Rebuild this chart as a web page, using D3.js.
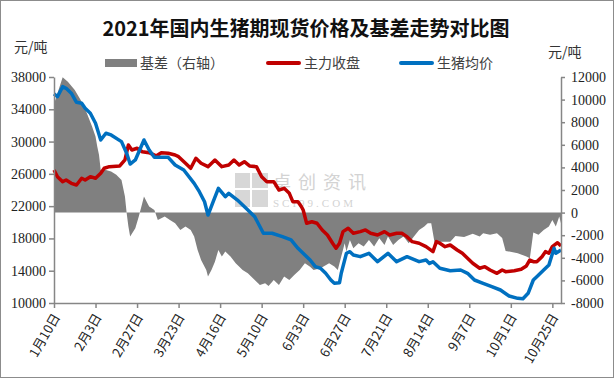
<!DOCTYPE html>
<html>
<head>
<meta charset="utf-8">
<script src="https://cdn.jsdelivr.net/npm/d3@7"></script>
<style>
  body { margin: 0; background: #fff; }
  svg text { font-family: "Noto Sans CJK SC", sans-serif; }
</style>
</head>
<body>
<div id="main"></div>
<script>
// 生猪均价 (元/吨)
var spot = [
  ["01-10",35900],["01-12",35560],["01-15",36800],["01-17",36600],["01-20",35990],["01-23",34870],
  ["01-26",34750],["01-28",34130],["01-31",33510],["02-03",32270],["02-06",30200],["02-09",31030],
  ["02-12",30820],["02-18",29990],["02-21",28550],["02-23",27220],["02-26",27720],["03-03",30200],
  ["03-06",28960],["03-09",28050],["03-17",28050],["03-21",27100],["03-26",26480],["04-01",24830],
  ["04-04",23790],["04-07",22550],["04-09",20900],["04-12",22550],["04-15",24210],["04-19",23170],
  ["04-21",23590],["04-26",22760],["05-01",21730],["05-06",20690],["05-11",18640],["05-16",18640],
  ["05-22",18220],["05-27",17810],["05-31",16780],["06-04",15950],["06-07",15330],["06-10",14500],
  ["06-13",14300],["06-16",13680],["06-19",12850],["06-21",12440],["06-24",12520],["06-25",13680],
  ["06-28",16160],["06-30",16360],["07-02",15950],["07-06",15740],["07-11",16160],["07-16",15120],
  ["07-22",16160],["07-27",15120],["08-02",15740],["08-09",15120],["08-13",15330],["08-15",14900],
  ["08-17",15100],["08-21",14300],["08-27",14000],["09-02",14090],["09-06",13680],["09-10",12850],
  ["09-15",12440],["09-20",12020],["09-25",11610],["09-30",10870],["10-05",10580],["10-08",10530],
  ["10-11",11200],["10-14",12850],["10-16",13260],["10-20",14090],["10-23",14710],["10-26",16780],
  ["10-27",16160],["10-30",16570]
];

// 主力收盘 (元/吨)
var futures = [
  ["01-10",26480],["01-12",25650],["01-15",25030],["01-17",25240],["01-20",24830],["01-23",24620],
  ["01-26",25450],["01-28",25240],["01-31",25650],["02-03",25450],["02-06",26070],["02-08",26690],
  ["02-11",26890],["02-17",26980],["02-20",27720],["02-22",29580],["02-24",28960],["02-27",29170],
  ["03-02",28750],["03-06",28620],["03-10",28220],["03-13",28620],["03-17",28550],["03-21",28340],
  ["03-23",28130],["03-27",27310],["03-30",26690],["04-02",27930],["04-05",27310],["04-09",26890],
  ["04-13",27720],["04-17",26890],["04-21",27100],["04-24",27720],["04-27",27100],["04-30",27510],
  ["05-03",26980],["05-07",26890],["05-10",25650],["05-13",25030],["05-17",25030],["05-20",24000],
  ["05-23",24210],["05-26",23590],["05-28",22550],["05-31",22550],["06-02",21930],["06-03",21520],
  ["06-05",19880],["06-08",20070],["06-11",19880],["06-14",19050],["06-17",18430],["06-20",17400],
  ["06-22",16780],["06-24",17400],["06-26",18840],["06-29",19260],["07-02",18640],["07-06",18840],
  ["07-09",19050],["07-12",18640],["07-16",18430],["07-20",18840],["07-23",18430],["07-27",18640],
  ["07-30",18640],["08-02",18220],["08-05",17600],["08-09",17400],["08-13",16980],["08-17",16360],
  ["08-19",17600],["08-21",17400],["08-24",16980],["08-27",17190],["08-31",16570],["09-03",16160],
  ["09-06",15540],["09-09",14920],["09-13",14300],["09-16",14500],["09-19",14090],["09-23",13680],
  ["09-26",14090],["09-28",13880],["10-03",14000],["10-07",14180],["10-10",14590],["10-12",15330],
  ["10-14",15120],["10-16",15120],["10-19",15740],["10-21",16360],["10-23",16160],["10-25",16980],
  ["10-28",17470],["10-30",17060]
];

// 基差 (右轴)
var basis = [
  ["01-10",9620],["01-15",11980],["01-18",11590],["01-22",10860],["01-26",9820],["01-29",8800],
  ["02-01",7610],["02-03",6730],["02-04",5840],["02-05",5110],["02-06",3780],["02-09",3780],
  ["02-12",3630],["02-15",3340],["02-18",2890],["02-20",1420],["02-21",-50],["02-22",-1240],
  ["02-23",-2120],["02-26",-1380],["02-28",-350],["03-02",830],["03-03",1420],["03-05",830],
  ["03-06",530],["03-09",240],["03-11",-650],["03-15",-350],["03-18",-650],["03-21",-940],
  ["03-24",-1530],["03-27",-1240],["03-30",-1530],["04-01",-2120],["04-03",-3300],["04-05",-4190],
  ["04-08",-5070],["04-09",-5660],["04-11",-5070],["04-13",-4340],["04-15",-3300],["04-17",-3890],
  ["04-19",-3450],["04-22",-3890],["04-25",-4480],["04-29",-5070],["05-02",-5360],["05-06",-5960],
  ["05-09",-6400],["05-12",-6250],["05-14",-6490],["05-17",-5960],["05-20",-6400],["05-23",-5660],
  ["05-26",-5960],["05-29",-5510],["06-01",-5070],["06-04",-4480],["06-07",-4800],["06-09",-5070],
  ["06-13",-4920],["06-18",-4480],["06-21",-4780],["06-23",-5070],["06-25",-3890],["06-27",-2710],
  ["06-28",-3450],["06-30",-2420],["07-02",-3150],["07-05",-2710],["07-08",-3010],["07-11",-2420],
  ["07-14",-3010],["07-17",-2270],["07-20",-2860],["07-22",-2120],["07-25",-2860],["07-28",-2420],
  ["07-31",-2120],["08-03",-2710],["08-06",-2120],["08-09",-1530],["08-12",-1240],["08-14",-940],
  ["08-16",-940],["08-18",-2710],["08-22",-2570],["08-27",-2570],["08-30",-2060],["09-04",-2150],
  ["09-09",-1880],["09-13",-2120],["09-15",-1820],["09-19",-1970],["09-23",-1820],["09-26",-2240],
  ["09-28",-3390],["10-05",-3590],["10-10",-3890],["10-12",-4040],["10-14",-1750],["10-17",-1970],
  ["10-20",-1530],["10-23",-1240],["10-25",-650],["10-27",-1240],["10-29",-350],["10-30",-940]
];

var xTicks = ["01-10","02-03","02-27","03-23","04-16","05-10","06-03","06-27","07-21","08-14","09-07","10-01","10-25"];
var leftTicks = [10000, 14000, 18000, 22000, 26000, 30000, 34000, 38000];
var rightTicks = [-8000, -6000, -4000, -2000, 0, 2000, 4000, 6000, 8000, 10000, 12000];

const width = 614;
const height = 378;
const plotLeft = 54, plotRight = 561, plotTop = 77, plotBottom = 303;

var parse = d3.timeParse("%Y-%m-%d");
var toDate = (s) => parse("2021-" + s);

const svg = d3.select("#main")
  .append("svg")
  .attr("width", width)
  .attr("height", height);

svg.append("rect")
  .attr("x", 0.5).attr("y", 0.5)
  .attr("width", width - 1).attr("height", height - 1)
  .attr("fill", "#fff")
  .attr("stroke", "#8c8c8c");

const xScale = d3.scaleTime()
  .domain([toDate("01-10"), toDate("10-30")])
  .range([plotLeft, plotRight]);
const yLeft = d3.scaleLinear().domain([10000, 38000]).range([plotBottom, plotTop]);
const yRight = d3.scaleLinear().domain([-8000, 12000]).range([plotBottom, plotTop]);

// basis area
const area = d3.area()
  .x((d) => xScale(toDate(d[0])))
  .y0(yRight(0))
  .y1((d) => yRight(d[1]));
svg.append("path")
  .datum(basis)
  .attr("d", area)
  .attr("fill", "#808080");

// watermark
var wm = svg.append("g").attr("opacity", 0.55);
[[235, 173, 15, 15], [252, 173, 16, 15], [235, 190, 15, 17], [252, 190, 16, 17]].forEach((r) => {
  wm.append("rect").attr("x", r[0]).attr("y", r[1]).attr("width", r[2]).attr("height", r[3]).attr("fill", "#b8b8b8");
});
wm.append("text")
  .attr("x", 273).attr("y", 189)
  .style("font-size", "18px")
  .style("letter-spacing", "7px")
  .attr("fill", "#b0b0b0")
  .text("卓创资讯");
wm.append("text")
  .attr("x", 273).attr("y", 207)
  .style("font-family", "Liberation Serif")
  .style("font-size", "11px")
  .style("letter-spacing", "3px")
  .attr("fill", "#b0b0b0")
  .text("SCI99.COM");

const lineLeft = d3.line()
  .x((d) => xScale(toDate(d[0])))
  .y((d) => yLeft(d[1]));

svg.append("path")
  .datum(futures)
  .attr("d", lineLeft)
  .attr("fill", "none")
  .attr("stroke", "#C00000")
  .attr("stroke-width", 3.5)
  .attr("stroke-linejoin", "round");

svg.append("path")
  .datum(spot)
  .attr("d", lineLeft)
  .attr("fill", "none")
  .attr("stroke", "#0070C0")
  .attr("stroke-width", 3.5)
  .attr("stroke-linejoin", "round");

// axes
const leftAxis = d3.axisLeft(yLeft).tickValues(leftTicks).tickSize(5).tickPadding(3).tickFormat(d3.format("d"));
const rightAxis = d3.axisRight(yRight).tickValues(rightTicks).tickSize(4).tickPadding(6).tickFormat((d) => d < 0 ? "-" + Math.abs(d) : d);
const bottomAxis = d3.axisBottom(xScale).tickValues(xTicks.map(toDate)).tickSize(5).tickFormat("");

function styleAxis(g) {
  g.select(".domain").attr("stroke", "#868686").attr("stroke-width", 1.5);
  g.selectAll(".tick line").attr("stroke", "#868686").attr("stroke-width", 1.5);
  g.selectAll("text")
    .style("font-family", "Liberation Serif")
    .style("font-size", "14px")
    .attr("fill", "#222");
}

svg.append("g")
  .attr("transform", "translate(" + plotLeft + ",0)")
  .call(leftAxis.tickSizeOuter(0))
  .call(styleAxis);

svg.append("g")
  .attr("transform", "translate(" + plotRight + ",0)")
  .call(rightAxis.tickSizeOuter(0))
  .call(styleAxis);

var xAxisG = svg.append("g")
  .attr("transform", "translate(0," + plotBottom + ")")
  .call(bottomAxis.tickSizeOuter(0))
  .call(styleAxis);

xAxisG.selectAll(".tick")
  .append("text")
  .attr("transform", "translate(6,14) rotate(-60)")
  .attr("text-anchor", "end")
  .attr("fill", "#222")
  .style("font-size", "13px")
  .text((d) => (d.getMonth() + 1) + "月" + d.getDate() + "日");

// title and units
svg.append("text")
  .attr("x", 306).attr("y", 36)
  .attr("text-anchor", "middle")
  .style("font-size", "20px")
  .style("font-weight", "bold")
  .attr("fill", "#111")
  .text("2021年国内生猪期现货价格及基差走势对比图");

svg.append("text").attr("x", 14).attr("y", 52).style("font-size", "14px").attr("fill", "#333").text("元/吨");
svg.append("text").attr("x", 548).attr("y", 57).style("font-size", "14px").attr("fill", "#333").text("元/吨");

// legend
var legendItems = [
  { label: "基差（右轴）", color: "#808080", x: 105, w: 32, h: 8 },
  { label: "主力收盘", color: "#C00000", x: 266, w: 35, h: 4 },
  { label: "生猪均价", color: "#0070C0", x: 399, w: 35, h: 4 }
];
var legend = svg.append("g");
legendItems.forEach((item) => {
  legend.append("rect")
    .attr("x", item.x).attr("y", 63 - item.h / 2)
    .attr("width", item.w).attr("height", item.h)
    .attr("rx", item.h === 4 ? 2 : 0)
    .attr("fill", item.color);
  legend.append("text")
    .attr("x", item.x + item.w + 3).attr("y", 68)
    .style("font-size", "14px")
    .attr("fill", "#404040")
    .text(item.label);
});
</script>
</body>
</html>
